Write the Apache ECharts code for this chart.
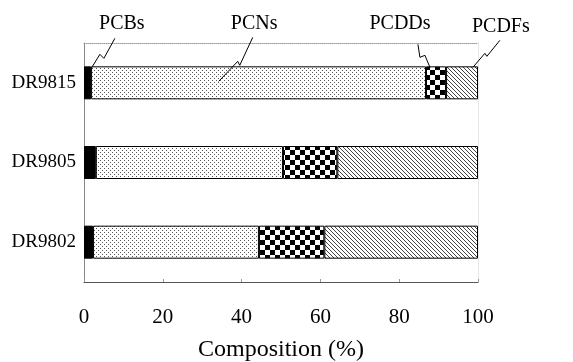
<!DOCTYPE html>
<html style="height: 100%">
<head>
    <meta charset="utf-8">
    <script type="text/javascript" src="https://cdn.jsdelivr.net/npm/echarts@6/dist/echarts.min.js"></script>
</head>
<body style="height: 100%; margin: 0; background: #fff">
    <div id="main" style="height: 362px; width: 573px;"></div>

    <script type="text/javascript">
        // samples, bottom to top
        var samples = ['DR9802', 'DR9805', 'DR9815'];
        var pcbs = [2.3, 3.0, 1.8];
        var pcns = [42.1, 47.5, 85.0];
        var pcdds = [16.6, 13.8, 5.1];
        var pcdfs = [39.0, 35.7, 8.1];
        var xTicks = [0, 20, 40, 60, 80, 100];

        var serif = 'Liberation Serif';

        // fill patterns
        function makePattern(w, h, draw) {
            var c = document.createElement('canvas');
            c.width = w;
            c.height = h;
            var ctx = c.getContext('2d');
            ctx.fillStyle = '#fff';
            ctx.fillRect(0, 0, w, h);
            draw(ctx);
            return { image: c, repeat: 'repeat' };
        }
        var dots = makePattern(4, 4, function (ctx) {
            ctx.fillStyle = '#555';
            ctx.fillRect(0, 0, 1, 1);
            ctx.fillRect(2, 2, 1, 1);
        });
        var checker = makePattern(10, 10, function (ctx) {
            ctx.fillStyle = '#000';
            ctx.fillRect(0, 0, 5, 5);
            ctx.fillRect(5, 5, 5, 5);
        });
        var hatch = makePattern(4, 4, function (ctx) {
            ctx.fillStyle = '#444';
            for (var i = 0; i < 4; i++) {
                ctx.fillRect(i, i, 1, 1);
            }
        });

        var chart = echarts.init(document.getElementById('main'));

        function seg(name, data, fill) {
            return {
                name: name,
                type: 'bar',
                stack: 'total',
                barWidth: 33,
                data: data,
                itemStyle: { color: fill, borderColor: '#000', borderWidth: 1 },
                emphasis: { disabled: true }
            };
        }

        var option = {
            animation: false,
            grid: { left: 84, right: 95, top: 43, bottom: 80, outerBoundsMode: 'none' },
            xAxis: [{
                type: 'value',
                min: 0,
                max: 100,
                interval: 20,
                name: 'Composition (%)',
                nameLocation: 'middle',
                nameGap: 56,
                nameTextStyle: { fontFamily: serif, fontSize: 24, color: '#000' },
                axisLine: { show: true, onZero: false, lineStyle: { color: '#555' } },
                axisTick: { show: true, inside: true, length: 3, lineStyle: { color: '#999' } },
                axisLabel: {
                    margin: 25, fontFamily: serif, fontSize: 21, color: '#000',
                    formatter: function (v) { return xTicks.indexOf(v) >= 0 ? v : ''; }
                },
                splitLine: { show: false }
            }, {
                type: 'value',
                position: 'top',
                min: 0,
                max: 100,
                axisLine: { show: true, onZero: false, lineStyle: { color: '#999', type: 'dotted' } },
                axisTick: { show: false },
                axisLabel: { show: false },
                splitLine: { show: false }
            }],
            yAxis: [{
                type: 'category',
                data: samples,
                axisLine: { show: true, onZero: false, lineStyle: { color: '#888' } },
                axisTick: { show: false },
                axisLabel: { margin: 8, fontFamily: serif, fontSize: 19, color: '#000' }
            }, {
                type: 'category',
                position: 'right',
                data: samples,
                axisLine: { show: true, onZero: false, lineStyle: { color: '#e2e2e2', type: 'dotted' } },
                axisTick: { show: false },
                axisLabel: { show: false }
            }],
            series: [
                seg('PCBs', pcbs, '#000'),
                seg('PCNs', pcns, dots),
                seg('PCDDs', pcdds, checker),
                seg('PCDFs', pcdfs, hatch)
            ]
        };
        chart.setOption(option);

        // callout labels with zigzag leaders on the top bar
        // at: x value where the leader meets the bar, dy: px below bar top,
        // pts: zigzag offsets from that point, lx: x value of label centre
        var callouts = [
            { name: 'PCBs', at: 2.0, dy: 1, pts: [[0, 0], [8, -13], [12, -9], [23, -29]], lx: 9.6, ly: 24 },
            { name: 'PCNs', at: 34.2, dy: 15, pts: [[0, 0], [19, -20], [21, -16], [34, -44]], lx: 43.2, ly: 24 },
            { name: 'PCDDs', at: 87.8, dy: 1, pts: [[0, 0], [-5, -12], [-10, -10], [-12, -23]], lx: 80.2, ly: 24 },
            { name: 'PCDFs', at: 98.7, dy: 1, pts: [[0, 0], [12, -14], [14, -11], [27, -27]], lx: 105.8, ly: 27 }
        ];
        var topY = chart.convertToPixel({ yAxisIndex: 0 }, 'DR9815') - 16.5;
        var elements = [];
        callouts.forEach(function (c) {
            var x0 = chart.convertToPixel({ xAxisIndex: 0 }, c.at);
            var y0 = topY + c.dy;
            elements.push({
                type: 'polyline',
                silent: true,
                z: 100,
                shape: { points: c.pts.map(function (p) { return [x0 + p[0], y0 + p[1]]; }) },
                style: { stroke: '#000', lineWidth: 1, fill: null }
            });
            elements.push({
                type: 'text',
                silent: true,
                z: 100,
                x: chart.convertToPixel({ xAxisIndex: 0 }, c.lx),
                y: c.ly,
                style: {
                    text: c.name, fontFamily: serif, fontSize: 20, fill: '#000',
                    align: 'center', verticalAlign: 'middle'
                }
            });
        });
        chart.setOption({ graphic: elements });
    </script>
</body>
</html>
